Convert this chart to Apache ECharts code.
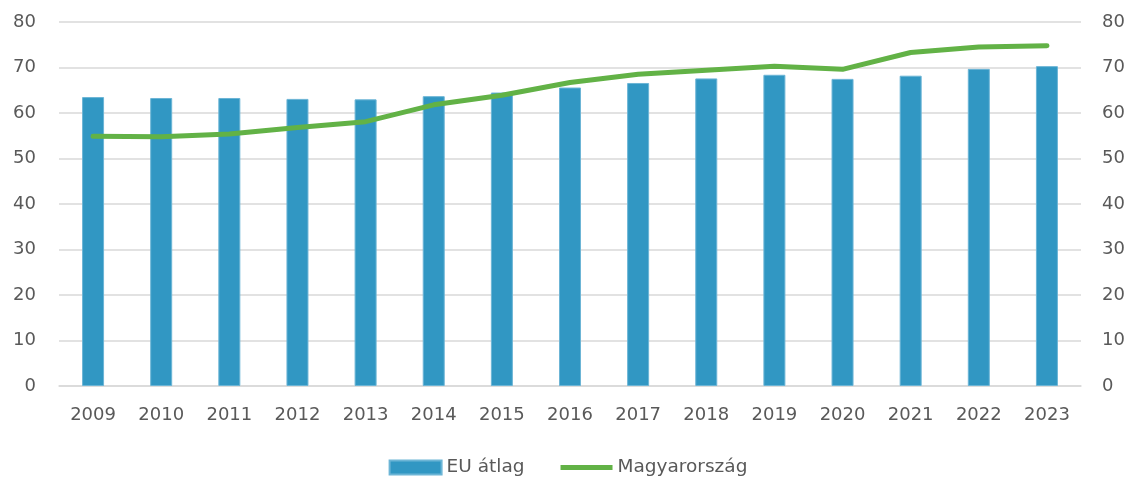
<!DOCTYPE html>
<html><head><meta charset="utf-8">
<script src="https://cdn.jsdelivr.net/npm/echarts@6/dist/echarts.min.js"></script>
<style>html,body{margin:0;padding:0;background:#fff}#c{width:1136px;height:481px}</style>
</head><body><div id="c"></div>
<script>
const years = ['2009','2010','2011','2012','2013','2014','2015','2016','2017','2018','2019','2020','2021','2022','2023'];
const euAvg = [63.5,63.3,63.3,63.1,63.0,63.7,64.5,65.6,66.6,67.6,68.4,67.5,68.2,69.7,70.3];
const hungary = [54.9,54.8,55.4,56.8,58.1,61.8,63.9,66.7,68.5,69.4,70.3,69.6,73.3,74.5,74.8];
const seriesNames = ['EU átlag','Magyarország'];

const chart = echarts.init(document.getElementById('c'), null, {renderer:'canvas'});
const FONT = '"DejaVu Sans", Verdana, sans-serif';
const labelStyle = {color:'#595959', fontSize:18, fontFamily:FONT};
chart.setOption({
  animation:false,
  grid:{left:59, right:55, top:22, bottom:95, containLabel:false},
  legend:{
    bottom:-1, left:'center', itemGap:36, itemWidth:52, itemHeight:14,
    textStyle:{color:'#595959', fontSize:18.5, fontFamily:FONT},
    data:[
      {name:seriesNames[0], icon:'rect'},
      {name:seriesNames[1], icon:'path://M0,0 M0,4.5 L52,4.5 L52,9.5 L0,9.5 Z M0,14'}
    ]
  },
  xAxis:{type:'category', data:years,
    axisLine:{lineStyle:{color:'#d9d9d9', width:1.5}}, axisTick:{show:false},
    axisLabel:Object.assign({margin:20}, labelStyle)},
  yAxis:[
    {type:'value', min:0, max:80, interval:10,
     axisLabel:Object.assign({margin:23}, labelStyle),
     splitLine:{lineStyle:{color:'#d9d9d9', width:1.5}}, axisLine:{show:false}, axisTick:{show:false}},
    {type:'value', min:0, max:80, interval:10, position:'right',
     axisLabel:Object.assign({margin:21, align:'left'}, labelStyle),
     splitLine:{show:false}, axisLine:{show:false}, axisTick:{show:false}}
  ],
  series:[
    {name:seriesNames[0], type:'bar', data:euAvg, barWidth:22,
     itemStyle:{color:'#3197c3', borderColor:'#6cb5d6', borderWidth:1}},
    {name:seriesNames[1], type:'line', data:hungary, showSymbol:false, symbol:'none',
     lineStyle:{color:'#62b246', width:5, cap:'round', join:'round'}, itemStyle:{color:'#62b246'}}
  ]
});
</script></body></html>
